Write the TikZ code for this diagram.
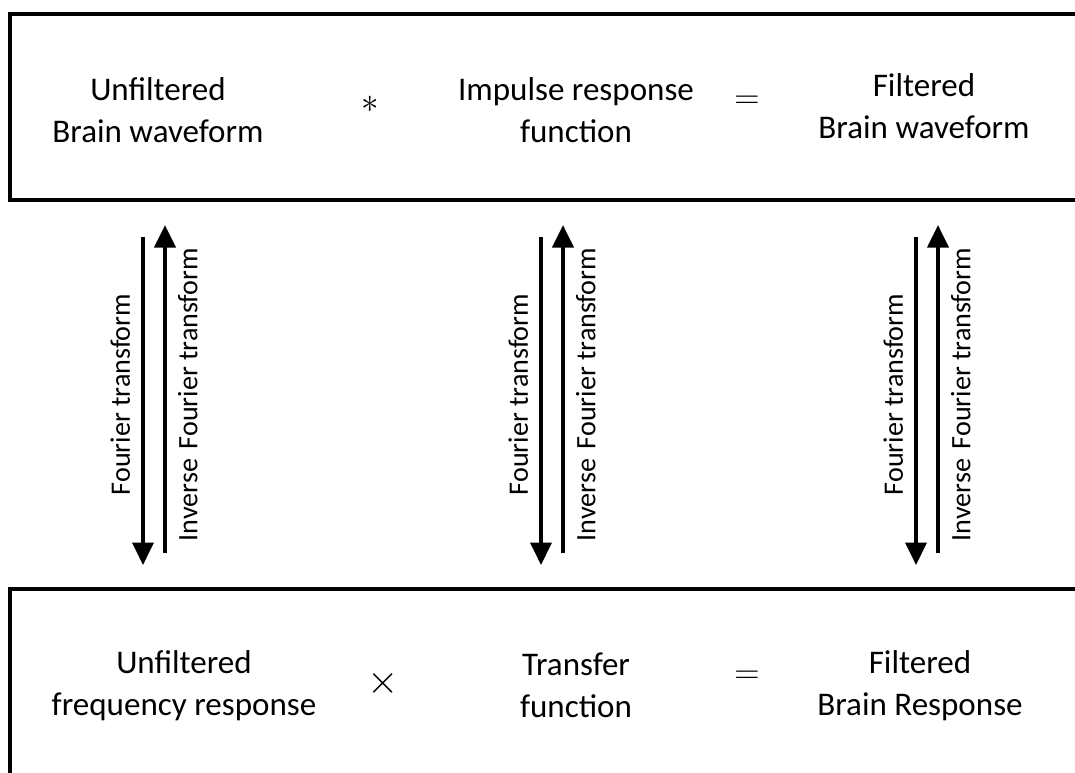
\documentclass[tikz,border=0pt]{standalone}
\usepackage{fontspec}
\setmainfont{Carlito}
\usetikzlibrary{arrows.meta}

\tikzset{
  box/.style={draw, line width=2.8pt, outer sep=0pt, inner sep=0pt, anchor=north west},
  lbl/.style={align=center, font=\fontsize{23.5}{29.8}\selectfont},
  op/.style={inner sep=0pt, font=\fontsize{26}{28}\selectfont},
  xform/.style={line width=2.5pt, -{Triangle[length=16pt,width=15pt]}},
  xlbl/.style={rotate=90, inner xsep=3pt, inner ysep=8pt, font=\fontsize{20}{22}\selectfont},
}

\begin{document}
\begin{tikzpicture}[x=0.025cm, y=-0.025cm]
  \useasboundingbox (0,0) rectangle (1075,772);
  \clip (0,0) rectangle (1075,772);

  % time domain box and frequency domain box (both run off the page)
  \node[box, minimum width=27.25cm, minimum height=4.65cm] (time) at (10,14) {};
  \node[box, minimum width=27.25cm, minimum height=6cm] (freq) at (10,589) {};

  % top row
  \node[lbl] (unfwave) at (158,110) {Unfiltered\\Brain waveform};
  \node[op]  (conv)    at (370,104) {$\ast$};
  \node[lbl] (impresp) at (576,110) {Impulse response\\function};
  \node[op]  (eqtop)   at (747,102) {$=$};
  \node[lbl] (filwave) at (924,106) {Filtered\\Brain waveform};

  % bottom row
  \node[lbl] (unffreq) at (184,686) {Unfiltered\\frequency response};
  \node[op, scale=1.15] (mult) at (383,683) {$\times$};
  \node[lbl] (transf)  at (576,685) {Transfer\\function};
  \node[op]  (eqbot)   at (747,677) {$=$};
  \node[lbl] (filresp) at (920,686) {Filtered\\Brain Response};

  % Fourier / inverse Fourier arrows
  \foreach \x/\y in {143/165, 541/563, 916/938}{
    \draw[xform, shorten <=0.925cm, shorten >=0.6cm] (time.south -| \x,0) --
      node[midway, xlbl, anchor=south] {Fourier transform} (freq.north -| \x,0);
    \draw[xform, shorten <=0.9cm, shorten >=0.625cm] (freq.north -| \y,0) --
      node[midway, xlbl, anchor=north] {Inverse\hspace{0.12em} Fourier transform} (time.south -| \y,0);
  }
\end{tikzpicture}
\end{document}
